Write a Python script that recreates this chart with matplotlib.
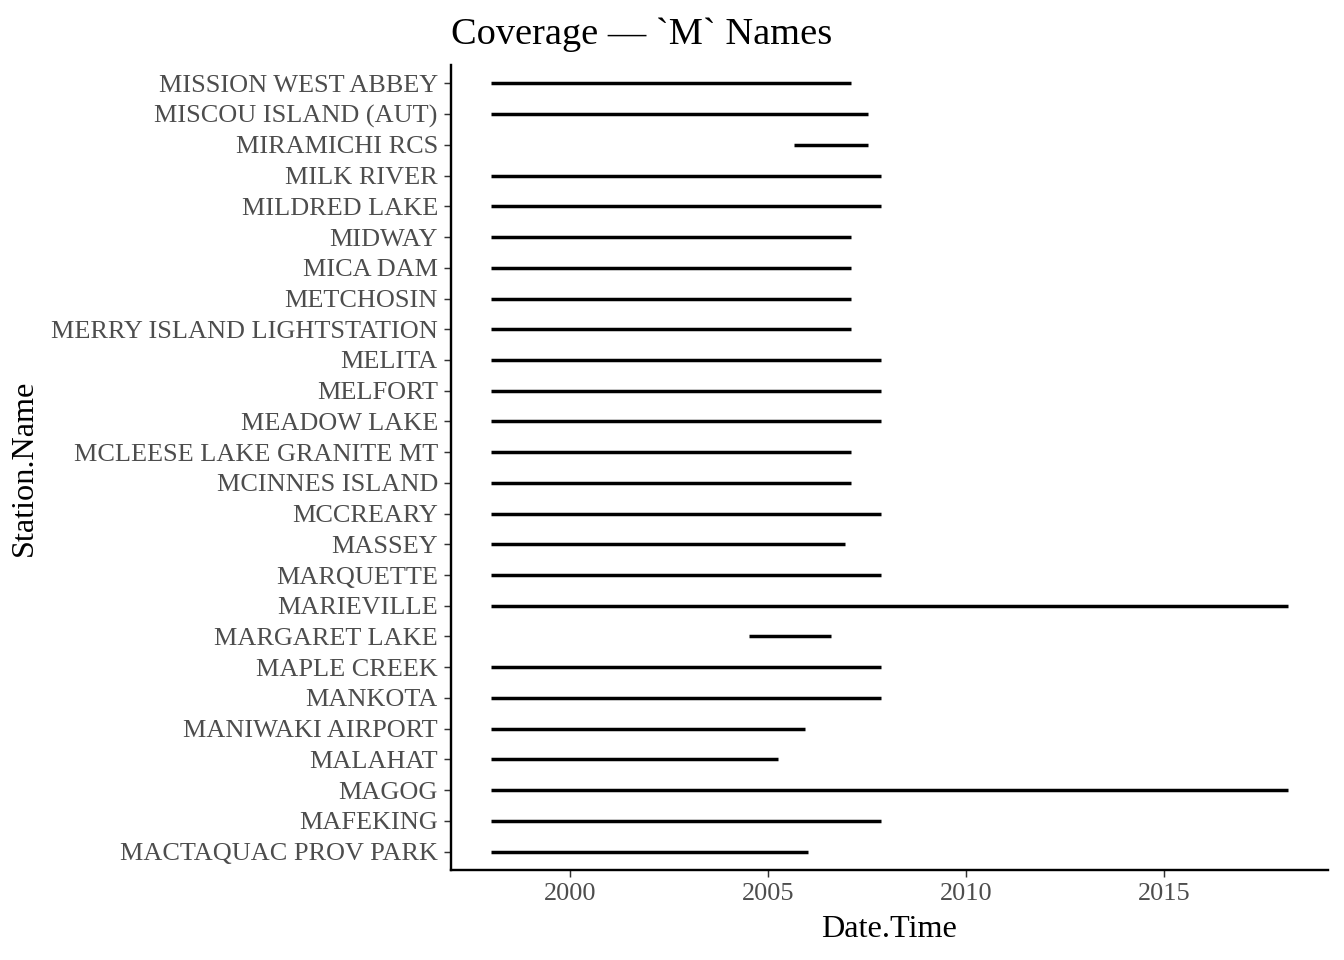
import matplotlib
matplotlib.use("Agg")
import matplotlib.pyplot as plt

stations = [
    "MACTAQUAC PROV PARK", "MAFEKING", "MAGOG", "MALAHAT", "MANIWAKI AIRPORT",
    "MANKOTA", "MAPLE CREEK", "MARGARET LAKE", "MARIEVILLE", "MARQUETTE",
    "MASSEY", "MCCREARY", "MCINNES ISLAND", "MCLEESE LAKE GRANITE MT", "MEADOW LAKE",
    "MELFORT", "MELITA", "MERRY ISLAND LIGHTSTATION", "METCHOSIN", "MICA DAM",
    "MIDWAY", "MILDRED LAKE", "MILK RIVER", "MIRAMICHI RCS", "MISCOU ISLAND (AUT)",
    "MISSION WEST ABBEY",
]
start_year = [
    1998.0, 1998.0, 1998.0, 1998.0, 1998.0,
    1998.0, 1998.0, 2004.52, 1998.0, 1998.0,
    1998.0, 1998.0, 1998.0, 1998.0, 1998.0,
    1998.0, 1998.0, 1998.0, 1998.0, 1998.0,
    1998.0, 1998.0, 1998.0, 2005.66, 1998.0,
    1998.0,
]
end_year = [
    2006.01, 2007.85, 2018.13, 2005.25, 2005.93,
    2007.85, 2007.85, 2006.59, 2018.13, 2007.85,
    2006.94, 2007.85, 2007.10, 2007.10, 2007.85,
    2007.85, 2007.85, 2007.10, 2007.10, 2007.10,
    2007.10, 2007.85, 2007.85, 2007.53, 2007.53,
    2007.10,
]
x_ticks = [2000, 2005, 2010, 2015]

plt.rcParams["font.family"] = ["Liberation Serif", "DejaVu Serif"]

fig = plt.figure(figsize=(7, 5), dpi=192)
ax = fig.add_axes([451/1344, 1-870/960, (1328-451)/1344, (870-65)/960])

ypos = list(range(len(stations)))
ax.hlines(ypos, start_year, end_year, color="black", linewidth=1.3, capstyle="butt")

xmin, xmax = min(start_year), max(end_year)
pad = (xmax - xmin) * 0.05
ax.set_xlim(xmin - pad, xmax + pad)
ax.set_ylim(-0.6, len(stations) - 1 + 0.6)

ax.set_yticks(ypos)
ax.set_yticklabels(stations)
ax.set_xticks(x_ticks)
ax.set_xticklabels([str(t) for t in x_ticks])

for s in ["top", "right"]:
    ax.spines[s].set_visible(False)
for s in ["left", "bottom"]:
    ax.spines[s].set_linewidth(0.9)
    ax.spines[s].set_color("black")

ax.tick_params(axis="both", length=2.75, width=0.55, color="#333333",
               labelsize=9.85, labelcolor="#4D4D4D", pad=2.2)

ax.set_xlabel("Date.Time", fontsize=12.1, labelpad=3.5)
ax.set_ylabel("Station.Name", fontsize=12.1, labelpad=4.5)
ax.set_title("Coverage \u2014 `M` Names", fontsize=14.4, loc="left", pad=7.8)

fig.savefig("out.png", dpi=192)
